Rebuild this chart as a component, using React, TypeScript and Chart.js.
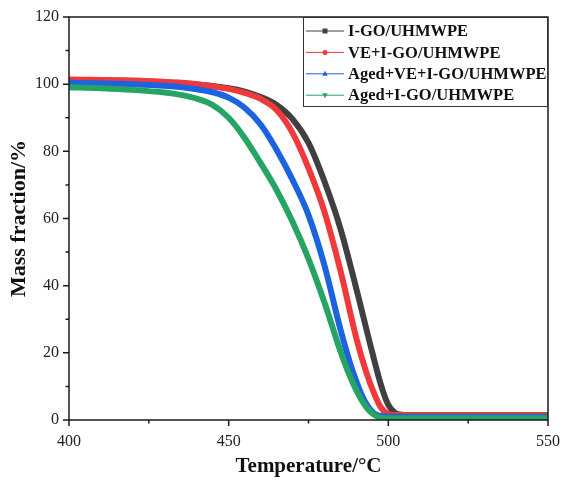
import React, { useEffect, useRef } from "react";
import { Chart, registerables } from "chart.js";

Chart.register(...registerables);

const seriesNames = ["I-GO/UHMWPE", "VE+I-GO/UHMWPE", "Aged+VE+I-GO/UHMWPE", "Aged+I-GO/UHMWPE"];
const seriesColors = ["#404040", "#f0393b", "#1b63df", "#26a463"];
const markerStyles = ["rect", "circle", "triangle", "triangleDown"];

const tempBlack = [400, 420, 440, 450, 455, 460, 465, 470, 475, 480, 485, 490, 495, 498, 500, 502, 504, 507, 550];
const massBlack = [101.2, 100.9, 99.9, 98.8, 97.8, 96.2, 93.8, 89.6, 82.5, 71.0, 57.0, 39.0, 20.0, 9.5, 4.5, 2.2, 1.6, 1.5, 1.5];

const tempRed = [400, 420, 440, 450, 455, 460, 465, 470, 475, 480, 485, 490, 493, 495.5, 497.5, 499.5, 502, 550];
const massRed = [101.4, 101.1, 100.0, 98.6, 97.4, 95.6, 92.3, 85.5, 75.0, 62.0, 44.5, 24.3, 14.5, 8.0, 4.0, 2.0, 1.5, 1.5];

const tempBlue = [400, 420, 430, 440, 445, 450, 455, 460, 465, 470, 475, 480, 485, 488, 491, 493.5, 495.5, 498, 500, 550];
const massBlue = [100.4, 100.0, 99.5, 98.5, 97.6, 96.0, 93.0, 88.0, 80.5, 71.5, 61.0, 46.0, 27.0, 17.0, 9.0, 4.2, 2.0, 1.1, 1.0, 1.0];

const tempGreen = [400, 410, 420, 430, 435, 440, 445, 450, 455, 460, 465, 470, 475, 480, 485, 488, 491, 494, 496.5, 499, 550];
const massGreen = [99.1, 98.8, 98.3, 97.5, 96.8, 95.7, 93.8, 90.0, 84.0, 76.5, 68.5, 59.0, 48.0, 35.0, 20.5, 13.0, 7.0, 2.8, 1.0, 0.5, 0.5];

const xMajorTicks = [400, 450, 500, 550];
const xMinorTicks = [425, 475, 525];
const yMajorTicks = [0, 20, 40, 60, 80, 100, 120];
const yMinorTicks = [10, 30, 50, 70, 90, 110];

const temps = [tempBlack, tempRed, tempBlue, tempGreen];
const masses = [massBlack, massRed, massBlue, massGreen];

const SERIF = "'Liberation Serif', 'Times New Roman', serif";

function drawMarker(ctx: CanvasRenderingContext2D, style: string, x: number, y: number, r: number) {
  ctx.beginPath();
  if (style === "rect") {
    ctx.rect(x - r, y - r, 2 * r, 2 * r);
  } else if (style === "circle") {
    ctx.arc(x, y, r, 0, Math.PI * 2);
  } else if (style === "triangle") {
    ctx.moveTo(x, y - r * 1.2);
    ctx.lineTo(x + r * 1.1, y + r * 0.8);
    ctx.lineTo(x - r * 1.1, y + r * 0.8);
    ctx.closePath();
  } else {
    ctx.moveTo(x, y + r * 1.2);
    ctx.lineTo(x + r * 1.1, y - r * 0.8);
    ctx.lineTo(x - r * 1.1, y - r * 0.8);
    ctx.closePath();
  }
  ctx.fill();
}

const framePlugin = {
  id: "framePlugin",
  afterDraw(chart: any) {
    const ctx: CanvasRenderingContext2D = chart.ctx;
    const { left, right, top, bottom } = chart.chartArea;
    const xs = chart.scales.x;
    const ys = chart.scales.y;
    ctx.save();
    ctx.strokeStyle = "#1a1a1a";
    ctx.lineWidth = 1.5;
    ctx.strokeRect(left, top, right - left, bottom - top);
    ctx.beginPath();
    yMajorTicks.forEach((v) => {
      const py = ys.getPixelForValue(v);
      ctx.moveTo(left, py);
      ctx.lineTo(left - 6, py);
    });
    yMinorTicks.forEach((v) => {
      const py = ys.getPixelForValue(v);
      ctx.moveTo(left, py);
      ctx.lineTo(left - 3.5, py);
    });
    xMajorTicks.forEach((v) => {
      const px = xs.getPixelForValue(v);
      ctx.moveTo(px, bottom);
      ctx.lineTo(px, bottom + 6);
    });
    xMinorTicks.forEach((v) => {
      const px = xs.getPixelForValue(v);
      ctx.moveTo(px, bottom);
      ctx.lineTo(px, bottom + 3.5);
    });
    ctx.stroke();

    // legend
    const boxW = 245;
    const boxH = 90;
    const bx = right - boxW;
    const by = top;
    ctx.fillStyle = "#ffffff";
    ctx.fillRect(bx, by, boxW, boxH);
    ctx.strokeStyle = "#333333";
    ctx.lineWidth = 1;
    ctx.strokeRect(bx + 0.5, by + 0.5, boxW - 1, boxH - 1);
    ctx.font = "bold 16.5px " + SERIF;
    ctx.textBaseline = "middle";
    ctx.textAlign = "left";
    seriesNames.forEach((name, i) => {
      const cy = by + 14 + i * 21.4;
      ctx.strokeStyle = seriesColors[i];
      ctx.lineWidth = 1;
      ctx.beginPath();
      ctx.moveTo(bx + 3, cy);
      ctx.lineTo(bx + 41, cy);
      ctx.stroke();
      ctx.fillStyle = seriesColors[i];
      drawMarker(ctx, markerStyles[i], bx + 22, cy, 2.5);
      ctx.fillStyle = "#111111";
      ctx.fillText(name, bx + 45, cy + 1);
    });
    ctx.restore();
  },
};

export default function App() {
  const canvasRef = useRef<HTMLCanvasElement | null>(null);

  useEffect(() => {
    if (!canvasRef.current) return;
    const datasets = seriesNames.map((name, i) => ({
      label: name,
      data: temps[i].map((t, j) => ({ x: t, y: masses[i][j] })),
      borderColor: seriesColors[i],
      backgroundColor: seriesColors[i],
      borderWidth: 6,
      pointRadius: 0,
      cubicInterpolationMode: "monotone" as const,
      order: 4 - i,
      fill: false,
    }));
    const chart = new Chart(canvasRef.current, {
      type: "line",
      data: { datasets },
      plugins: [framePlugin],
      options: {
        animation: false,
        responsive: false,
        maintainAspectRatio: false,
        layout: { padding: { top: 17, right: 15, left: 0, bottom: 0 } },
        plugins: {
          legend: { display: false },
          tooltip: { enabled: false },
        },
        scales: {
          x: {
            type: "linear",
            min: 400,
            max: 550,
            afterFit: (scale: any) => {
              scale.height = 60;
              scale.paddingLeft = 0;
              scale.paddingRight = 0;
            },
            ticks: {
              stepSize: 50,
              padding: 12,
              color: "#222",
              font: { family: SERIF, size: 16 },
            },
            grid: { display: false, drawTicks: false },
            border: { display: false },
            title: {
              display: true,
              text: "Temperature/°C",
              color: "#111",
              font: { family: SERIF, size: 21, weight: "bold" },
              padding: { top: 0, bottom: 1 },
            },
          },
          y: {
            type: "linear",
            min: 0,
            max: 120,
            afterFit: (scale: any) => {
              scale.width = 69;
              scale.paddingTop = 0;
              scale.paddingBottom = 0;
            },
            ticks: {
              stepSize: 20,
              padding: 10,
              color: "#222",
              font: { family: SERIF, size: 16 },
            },
            grid: { display: false, drawTicks: false },
            border: { display: false },
            title: {
              display: true,
              text: "Mass fraction/%",
              color: "#111",
              font: { family: SERIF, size: 22, weight: "bold" },
              padding: { top: 6, bottom: 0 },
            },
          },
        },
      },
    } as any);
    return () => chart.destroy();
  }, []);

  return (
    <div style={{ position: "fixed", left: 0, top: 0, width: 563, height: 480, background: "#fff" }}>
      <canvas ref={canvasRef} width={563} height={480} style={{ width: 563, height: 480, display: "block" }} />
    </div>
  );
}
